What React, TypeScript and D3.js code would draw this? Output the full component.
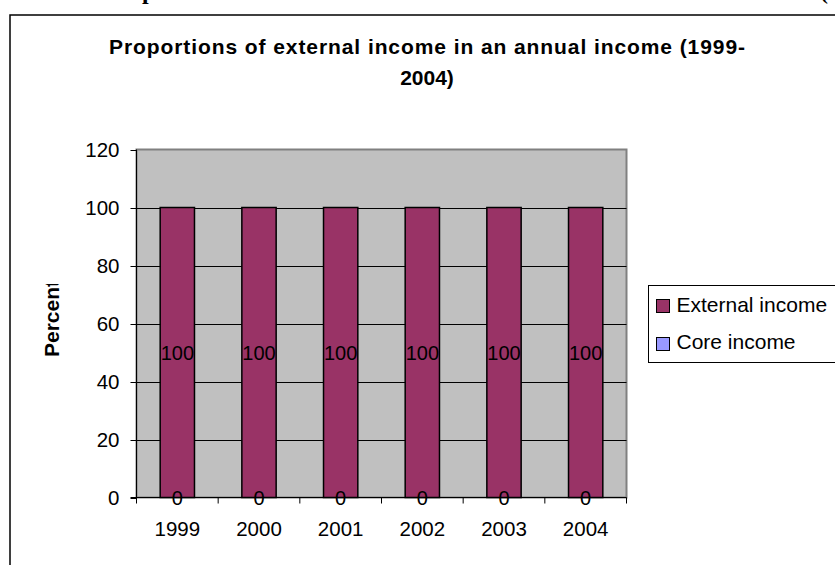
import React from "react";
import * as d3 from "d3";

const years = ["1999", "2000", "2001", "2002", "2003", "2004"];
const externalIncome = [100, 100, 100, 100, 100, 100];
const coreIncome = [0, 0, 0, 0, 0, 0];
const yTicks = [0, 20, 40, 60, 80, 100, 120];
const seriesNames = ["External income", "Core income"];
const seriesColors = ["#993366", "#9999FF"];
const titleLines = ["Proportions of external income in an annual income (1999-", "2004)"];
const yAxisLabel = "Percent";

const W = 835;
const H = 565;
const PL = 136.5, PR = 626.5, PT = 149.5, PB = 497.5;
const SANS = "'Liberation Sans', Arial, sans-serif";
const SERIF = "'Liberation Serif', 'Times New Roman', serif";

export default function App() {
  const rows = years.map((y, i) => ({ year: y, core: coreIncome[i], external: externalIncome[i] }));
  const stack = d3.stack<any>().keys(["core", "external"]);
  const stacked = stack(rows);

  const x = d3.scaleBand<string>().domain(years).range([PL, PR]).paddingInner(0).paddingOuter(0);
  const y = d3.scaleLinear().domain([0, 120]).range([PB, PT]);
  const bw = x.bandwidth();
  const barW = bw * 0.42;

  const colorFor: Record<string, string> = { external: seriesColors[0], core: seriesColors[1] };

  return (
    <div style={{ position: "fixed", left: 0, top: 0, width: W, height: H }}>
      <svg width={W} height={H} style={{ display: "block", background: "#fff" }}>
        <defs>
          <clipPath id="ylabClip">
            <rect x={0} y={284} width={100} height={200} />
          </clipPath>
        </defs>
        {/* document text cut at the top */}
        <text x={142} y={-1} fontFamily={SERIF} fontWeight="bold" fontSize={24} fill="#000">p</text>
        <text x={820} y={-1} fontFamily={SERIF} fontWeight="bold" fontSize={24} fill="#000">(</text>

        {/* chart frame */}
        <rect x={10} y={15} width={900} height={600} fill="#fff" stroke="#000" strokeWidth={1.5} />

        {/* title */}
        <text x={109} y={54} fontFamily={SANS} fontWeight="bold" fontSize={21} textLength={636} fill="#000">
          {titleLines[0]}
        </text>
        <text x={427} y={85} fontFamily={SANS} fontWeight="bold" fontSize={21} textAnchor="middle" fill="#000">
          {titleLines[1]}
        </text>

        {/* plot area */}
        <rect x={PL} y={PT} width={PR - PL} height={PB - PT} fill="#C0C0C0" stroke="#808080" strokeWidth={2} />

        {/* gridlines */}
        {yTicks.filter((t) => t > 0 && t < 120).map((t) => (
          <line key={"g" + t} x1={PL} x2={PR} y1={Math.round(y(t)) + 0.5} y2={Math.round(y(t)) + 0.5} stroke="#000" strokeWidth={1} />
        ))}

        {/* bars */}
        {stacked.map((s) =>
          s.map((d, i) => {
            const cx = (x(years[i]) as number) + bw / 2;
            return (
              <rect
                key={s.key + i}
                x={cx - barW / 2}
                y={y(d[1])}
                width={barW}
                height={y(d[0]) - y(d[1])}
                fill={colorFor[s.key]}
                stroke="#000"
                strokeWidth={1.5}
              />
            );
          })
        )}

        {/* axes */}
        <line x1={PL} x2={PL} y1={PT} y2={PB} stroke="#000" strokeWidth={1} />
        <line x1={PL - 6} x2={PR} y1={PB} y2={PB} stroke="#000" strokeWidth={1} />
        {yTicks.map((t) => (
          <g key={"yt" + t}>
            <line x1={PL - 6} x2={PL} y1={Math.round(y(t)) + 0.5} y2={Math.round(y(t)) + 0.5} stroke="#000" strokeWidth={1} />
            <text x={119.5} y={y(t) + 7} textAnchor="end" fontFamily={SANS} fontSize={20.5} fill="#000">
              {t}
            </text>
          </g>
        ))}
        {d3.range(years.length + 1).map((i) => {
          const xx = PL + i * bw;
          return <line key={"xt" + i} x1={xx} x2={xx} y1={PB} y2={PB + 6} stroke="#000" strokeWidth={1} />;
        })}
        {years.map((yr) => (
          <text key={"xl" + yr} x={(x(yr) as number) + bw / 2} y={536} textAnchor="middle" fontFamily={SANS} fontSize={20.5} fill="#000">
            {yr}
          </text>
        ))}

        {/* data labels */}
        {stacked.map((s) =>
          s.map((d, i) => {
            const cx = (x(years[i]) as number) + bw / 2;
            const cy = y((d[0] + d[1]) / 2);
            return (
              <text key={"dl" + s.key + i} x={cx} y={cy + 7} textAnchor="middle" fontFamily={SANS} fontSize={20} fill="#000">
                {d[1] - d[0]}
              </text>
            );
          })
        )}

        {/* y axis label */}
        <g clipPath="url(#ylabClip)">
          <text transform="translate(59,357) rotate(-90)" fontFamily={SANS} fontWeight="bold" fontSize={21} fill="#000">
            {yAxisLabel}
          </text>
        </g>

        {/* legend */}
        <rect x={648.5} y={285.5} width={220} height={77} fill="#fff" stroke="#000" strokeWidth={1} />
        {seriesNames.map((name, i) => (
          <g key={"lg" + i}>
            <rect x={656.5} y={299.5 + i * 38} width={13} height={13} fill={seriesColors[i]} stroke="#000" strokeWidth={1} />
            <text x={676.5} y={312 + i * 37} fontFamily={SANS} fontSize={21} fill="#000">
              {name}
            </text>
          </g>
        ))}
      </svg>
    </div>
  );
}
